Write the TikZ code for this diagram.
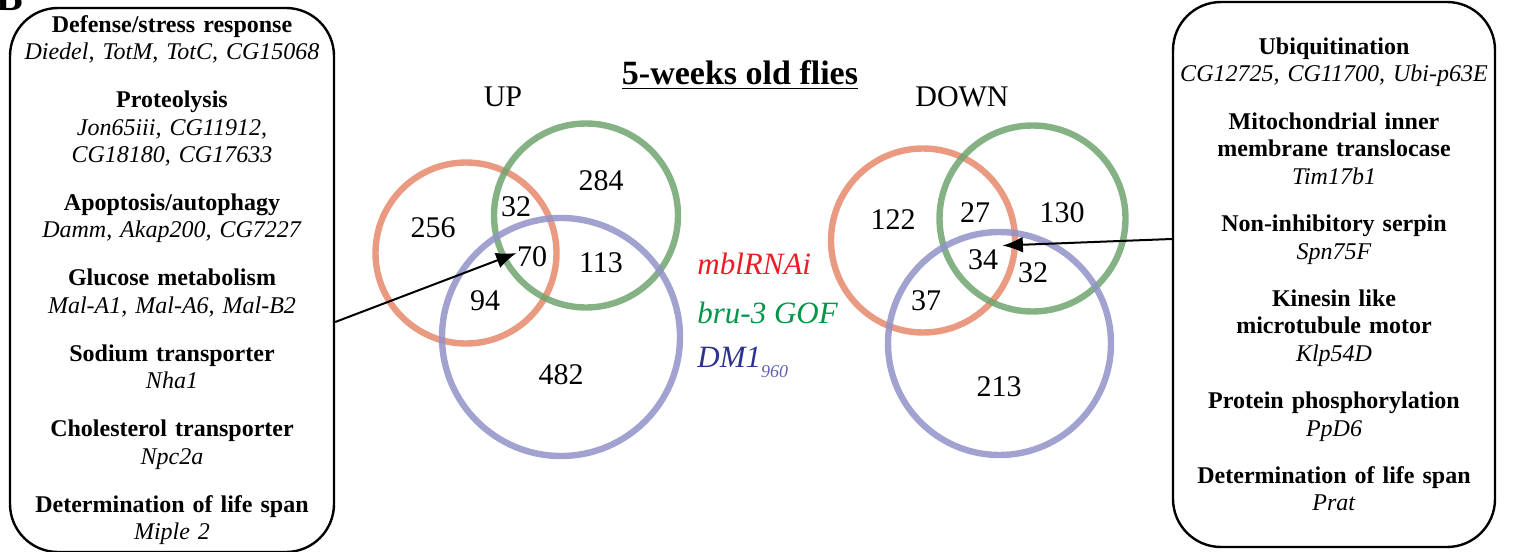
\documentclass[tikz,border=0pt]{standalone}
\usepackage{fontspec}
\setmainfont{Liberation Serif}
\usepackage{tikz}
\usetikzlibrary{arrows.meta}

\definecolor{ringred}{RGB}{232,136,108}
\definecolor{ringgreen}{RGB}{112,164,112}
\definecolor{ringblue}{RGB}{146,146,200}
\definecolor{legred}{RGB}{237,28,36}
\definecolor{leggreen}{RGB}{0,150,72}
\definecolor{legblue}{RGB}{46,49,146}
\definecolor{legsub}{RGB}{96,96,176}

\begin{document}
\begin{tikzpicture}[
  x=0.5pt, y=-0.5pt,
  box/.style={draw, line width=1.2pt, rounded corners=24pt, align=center, text width=158pt, inner sep=0pt, font=\fontsize{12}{13.75}\selectfont},
  ring/.style={line width=3.2pt, draw opacity=0.85},
  num/.style={inner sep=0pt, font=\fontsize{15}{18}\selectfont},
  leg/.style={anchor=base west, inner sep=0pt, font=\fontsize{15.5}{18}\selectfont\itshape},
  arr/.style={-{Latex[length=3.6mm, width=2.8mm]}, line width=1pt}
]
\useasboundingbox (0,0) rectangle (1519,551);

\node[inner sep=0pt, anchor=base, font=\fontsize{20}{20}\selectfont\bfseries] (panel) at (10,11) {B};

% gene lists
\node[box, minimum width=162pt, minimum height=272pt] (upbox) at (172,280) {%
\textbf{Defense/stress response}\\ \textit{Diedel, TotM, TotC, CG15068}\\[10.2pt]
\textbf{Proteolysis}\\ \textit{Jon65iii, CG11912,}\\ \textit{CG18180, CG17633}\\[10.2pt]
\textbf{Apoptosis/autophagy}\\ \textit{Damm, Akap200, CG7227}\\[10.2pt]
\textbf{Glucose metabolism}\\ \textit{Mal-A1, Mal-A6, Mal-B2}\\[10.2pt]
\textbf{Sodium transporter}\\ \textit{Nha1}\\[10.2pt]
\textbf{Cholesterol transporter}\\ \textit{Npc2a}\\[10.2pt]
\textbf{Determination of life span}\\ \textit{Miple 2}};
\node[box, minimum width=161pt, minimum height=272.5pt] (downbox) at (1334,274.5) {%
\textbf{Ubiquitination}\\ \textit{CG12725, CG11700, Ubi-p63E}\\[9.9pt]
\textbf{Mitochondrial inner}\\ \textbf{membrane translocase}\\ \textit{Tim17b1}\\[9.9pt]
\textbf{Non-inhibitory serpin}\\ \textit{Spn75F}\\[9.9pt]
\textbf{Kinesin like}\\ \textbf{microtubule motor}\\ \textit{Klp54D}\\[9.9pt]
\textbf{Protein phosphorylation}\\ \textit{PpD6}\\[9.9pt]
\textbf{Determination of life span}\\ \textit{Prat}};

\node[inner sep=0pt, anchor=base, font=\fontsize{17}{20}\selectfont\bfseries] (title) at (740,85) {\underline{5-weeks old flies}};
\node[num, anchor=base] (uplabel) at (503,106) {UP};
\node[num, anchor=base] (downlabel) at (962,106) {DOWN};

% UP circles
\draw[ring, ringred] (466,253) circle[radius=45.25pt];
\draw[ring, ringgreen] (586,215.5) circle[radius=46pt];
\draw[ring, ringblue] (561,337) circle[radius=59.5pt];
% DOWN circles
\draw[ring, ringred] (923,240.5) circle[radius=46pt];
\draw[ring, ringgreen] (1032.5,218.5) circle[radius=46.5pt];
\draw[ring, ringblue] (999.5,343.5) circle[radius=55.75pt];

\node[num] (u256) at (433,228) {256};
\node[num] (u32) at (516,207) {32};
\node[num] (u284) at (601,181) {284};
\node[num] (u70) at (532,257) {70};
\node[num] (u113) at (601,263) {113};
\node[num] (u94) at (485,301) {94};
\node[num] (u482) at (561,375) {482};

\node[num] (d122) at (893,220) {122};
\node[num] (d27) at (975,213) {27};
\node[num] (d130) at (1062,213) {130};
\node[num] (d34) at (983,260) {34};
\node[num] (d32) at (1033,273) {32};
\node[num] (d37) at (926,301) {37};
\node[num] (d213) at (999,387) {213};

% legend
\node[leg, text=legred] (legmbl) at (697,274) {mblRNAi};
\node[leg, text=leggreen] (legbru) at (697,323) {bru-3 GOF};
\node[leg, text=legblue] (legdm) at (697,367) {DM1\raisebox{-5pt}{\fontsize{9}{10}\selectfont\color{legsub}960}};

\draw[arr] ([yshift=-21pt]upbox.east) -- ([yshift=2pt]u70.west);
\draw[arr] ([yshift=17.75pt]downbox.west) -- ([shift={(2pt,2pt)}]d34.north east);
\end{tikzpicture}
\end{document}
